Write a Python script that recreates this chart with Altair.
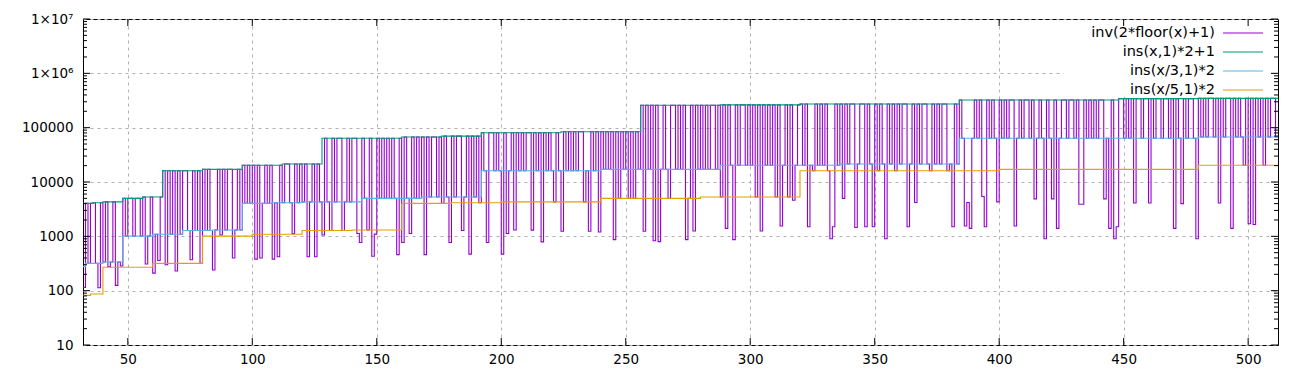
import altair as alt
import pandas as pd

# ---------------- data ----------------
X_DOMAIN = [32, 512]
Y_DOMAIN = [10, 1e7]

# ins(x,1)*2+1  (step change points and levels)
green_x = [32, 36, 40, 48, 56, 64, 80, 96, 112, 128, 160, 176, 192, 224, 256, 288, 320, 384, 448, 480]
green_v = [4050, 4150, 4300, 5000, 5300, 16100, 17100, 20300, 21400, 63700, 67300, 70000, 80800,
           84000, 258000, 263000, 272000, 323000, 343000, 346000]

# ins(x/3,1)*2
blue_x = [32, 33, 40, 48, 60, 72, 84, 96, 108, 120, 144, 168, 192, 240, 288, 336, 384, 480]
blue_v = [277, 318, 336, 1010, 1090, 1280, 1310, 4050, 4150, 4300, 5000, 5300, 16100, 17100,
          20300, 21400, 63700, 67300]

# ins(x/5,1)*2
orange_x = [32, 35, 40, 60, 80, 100, 120, 140, 160, 180, 200, 240, 280, 320, 400, 480]
orange_v = [82, 87, 270, 318, 1010, 1090, 1280, 1310, 4050, 4150, 4300, 5000, 5300, 16100, 17100, 20300]

# inv(2*floor(x)+1) for x = 32..511, one code per integer x:
# T = at the ins(x,1)*2+1 level, M = at the ins(x/3,1)*2 level,
# O = at the ins(x/5,1)*2 level, d = a dip whose value is the next entry of purple_dips
purple_codes = (
    "dTMTTMdTMTdMTdMd" "TMTTMTTMTdMTdMdT" "TdTMTdTMTTMdTMTd" "TMTMdMTdTMTTdMTM"
    "TMTMTdTdMTMTdMdT" "MTTMdTMTMTdMTdTM" "dTMdTMTTdMTMTTdd" "TMdTddTMTMTMTMdT"
    "dTMdTMTMTdTMTTMT" "OTMdTMTTdMTdTMTO" "TMdTTMTMdTdMTdTM" "TMTTdTMTdTMTMOTM"
    "dTMTMTMTTOMdTMTd" "TMTMTdTOTMTOTOTM" "TdTMTdTdMTMOTTMT" "MTdOTdTMTMTMTTMT"
    "OTdTMdTMTTMTMTOT" "dTMTMTOTdMTOTdMT" "TMTdMOTMTMTOddTM" "TdTMTTdMTTdTMdTO"
    "TMdTMTOTMTTdMTdT" "MTTMOTMTMTTOMdTM" "TMdddMTMTddTMTMd" "TMTMTTdMTMTTMTdM"
    "TMdTMdTdMTTMTTMT" "ddTMTMTMTTdMdTdd" "TTMTMTdTTMTTdTMT" "TMTTMTdTMdTMTTMd"
    "TMTMTTMTdTMTTdTM" "TMOTdTdTMTOTMTTM"
)
purple_dips = [
    115, 113, 275, 125, 285,
    310, 210, 360,
    300, 230, 370, 320,
    240, 1060, 400,
    380, 400, 380, 420,
    1130, 420, 420,
    1060, 1280, 1280, 1130, 770,
    1310, 430, 1100, 460,
    770, 1130, 460,
    770, 1280, 470,
    770, 470, 1130, 1310,
    1300, 790,
    1240, 1240, 1200,
    870,
    1240, 830, 800,
    870, 1250,
    1400, 870,
    1250, 1550, 4600,
    1500, 900, 1500,
    5000, 1450, 1500, 1500,
    900, 1500, 4200,
    1500,
    1550, 4200, 1400, 5400, 1500, 4300,
    1550, 4900,
    900, 4900, 1400,
    3900, 3900, 4900, 1400, 900, 1500,
    4100, 4100,
    1400, 4000, 900,
    4100, 1400,
    1700, 1650,
]

x_tick_values = [50, 100, 150, 200, 250, 300, 350, 400, 450, 500]
y_tick_values = [10, 100, 1000, 10000, 100000, 1000000, 10000000]
y_minor_values = [m * 10 ** k for k in range(1, 7) for m in range(2, 10)]

legend_labels = ["inv(2*floor(x)+1)", "ins(x,1)*2+1", "ins(x/3,1)*2", "ins(x/5,1)*2"]
colors = ["#9400d3", "#009e73", "#56b4e9", "#e69f00"]

# ---------------- build tables ----------------
def level_at(xs, vs, x):
    val = vs[0]
    for xi, vi in zip(xs, vs):
        if xi <= x:
            val = vi
    return val

assert len(purple_codes) == 480, len(purple_codes)
rows = []
dip_i = 0
for i, c in enumerate(purple_codes):
    x = 32 + i
    if c == "T":
        v = level_at(green_x, green_v, x)
    elif c == "M":
        v = level_at(blue_x, blue_v, x)
    elif c == "O":
        v = level_at(orange_x, orange_v, x)
    else:
        v = purple_dips[dip_i]
        dip_i += 1
    rows.append((x, v))
assert dip_i == len(purple_dips), (dip_i, len(purple_dips))
rows.append((X_DOMAIN[1], rows[-1][1]))
purple_df = pd.DataFrame(rows, columns=["x", "v"])


def step_df(xs, vs):
    return pd.DataFrame({"x": list(xs) + [X_DOMAIN[1]], "v": list(vs) + [vs[-1]]})


green_df = step_df(green_x, green_v)
blue_df = step_df(blue_x, blue_v)
orange_df = step_df(orange_x, orange_v)

W, H = 1195, 326
FONT = "DejaVu Sans"

x_enc = alt.X(
    "x:Q",
    scale=alt.Scale(domain=X_DOMAIN, nice=False, zero=False),
    axis=alt.Axis(values=x_tick_values, grid=True, gridDash=[3, 4], gridColor="#b0b0b0",
                  gridWidth=1, ticks=False, domain=False, labelPadding=7, labelFontSize=13.5,
                  labelFont=FONT, labelColor="#000000", title=None, labelFlush=False),
)
y_enc = alt.Y(
    "v:Q",
    scale=alt.Scale(type="log", domain=Y_DOMAIN, nice=False),
    axis=alt.Axis(values=y_tick_values, grid=True, gridDash=[3, 4], gridColor="#b0b0b0",
                  gridWidth=1, ticks=False, domain=False, labelPadding=10, labelFontSize=13.5,
                  labelFont=FONT, labelColor="#000000", title=None,
                  labelExpr="datum.value >= 9999999 ? '1×10⁷' : (datum.value >= 999999 ? '1×10⁶' : format(datum.value, 'd'))"),
)


def series(df, color):
    return alt.Chart(df).mark_line(interpolate="step-after", color=color, strokeWidth=1.1,
                                   clip=True).encode(x=x_enc, y=y_enc)


layers = []
# data series (drawn in the reference order)
for df, col in zip([purple_df, green_df, blue_df, orange_df], colors):
    layers.append(series(df, col))

# opaque key box (hides the grid behind the key)
box_df = pd.DataFrame({"k": ["key"]})
layers.append(alt.Chart(box_df).mark_rect(color="white").encode(
    x=alt.value(981), x2=alt.value(1188), y=alt.value(1), y2=alt.value(77)))

# inward ticks
ymaj = pd.DataFrame({"v": y_tick_values})
ymin = pd.DataFrame({"v": y_minor_values})
xmaj = pd.DataFrame({"x": x_tick_values})
layers.append(alt.Chart(ymaj).mark_rule(color="black").encode(y=y_enc, x=alt.value(0), x2=alt.value(7)))
layers.append(alt.Chart(ymaj).mark_rule(color="black").encode(y=y_enc, x=alt.value(W - 7), x2=alt.value(W)))
layers.append(alt.Chart(ymin).mark_rule(color="black").encode(y=y_enc, x=alt.value(0), x2=alt.value(4)))
layers.append(alt.Chart(ymin).mark_rule(color="black").encode(y=y_enc, x=alt.value(W - 4), x2=alt.value(W)))
layers.append(alt.Chart(xmaj).mark_rule(color="black").encode(x=x_enc, y=alt.value(H), y2=alt.value(H - 7)))
layers.append(alt.Chart(xmaj).mark_rule(color="black").encode(x=x_enc, y=alt.value(0), y2=alt.value(7)))

# key (top right, text right-aligned with line sample)
legend_y = [14, 33, 52, 71]
for lab, col, ly in zip(legend_labels, colors, legend_y):
    ldf = pd.DataFrame({"t": [lab]})
    layers.append(alt.Chart(ldf).mark_text(align="right", baseline="middle", fontSize=14.5,
                                           font=FONT, color="black").encode(
        text="t:N", x=alt.value(1132), y=alt.value(ly)))
    layers.append(alt.Chart(ldf).mark_rule(color=col, strokeWidth=1.1).encode(
        x=alt.value(1140), x2=alt.value(1180), y=alt.value(ly)))

chart = alt.layer(*layers).properties(
    width=W, height=H,
    padding={"left": 75, "top": 11, "right": 16, "bottom": 31},
    autosize=alt.AutoSizeParams(type="none"),
    background="white",
).configure_view(stroke="black", strokeWidth=1)

chart.save("out.html", embed_options={"renderer": "svg", "actions": False})
